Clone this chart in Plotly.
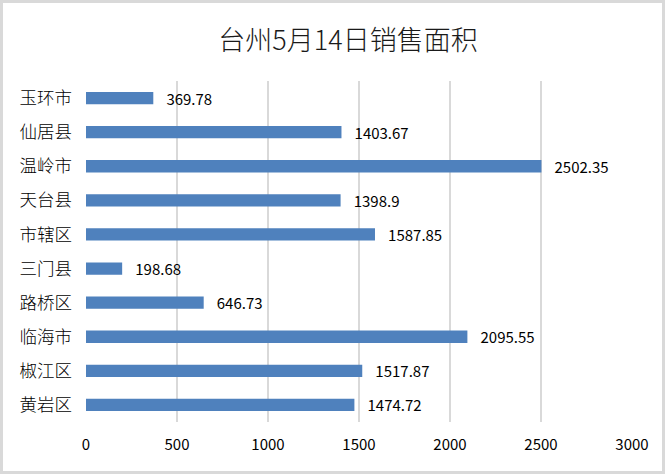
import plotly.graph_objects as go

categories = ["玉环市", "仙居县", "温岭市", "天台县", "市辖区", "三门县", "路桥区", "临海市", "椒江区", "黄岩区"]
values = [369.78, 1403.67, 2502.35, 1398.9, 1587.85, 198.68, 646.73, 2095.55, 1517.87, 1474.72]
value_labels = ["369.78", "1403.67", "2502.35", "1398.9", "1587.85", "198.68", "646.73", "2095.55", "1517.87", "1474.72"]
x_ticks = [0, 500, 1000, 1500, 2000, 2500, 3000]

W, H = 665, 474
ml, mr, mt, mb = 86, 33, 81, 52
pw, ph = W - ml - mr, H - mt - mb

font_family = "Noto Sans CJK SC, Noto Sans, sans-serif"

fig = go.Figure(go.Bar(
    y=categories,
    x=values,
    orientation="h",
    marker=dict(color="#4F81BD", line=dict(width=0)),
    text=["\u00a0\u00a0\u00a0" + t for t in value_labels],
    textposition="outside",
    constraintext="none",
    textfont=dict(size=15, color="#000000", family=font_family),
    cliponaxis=False,
))

fig.update_layout(
    width=W, height=H,
    margin=dict(l=ml, r=mr, t=mt, b=mb),
    paper_bgcolor="white",
    plot_bgcolor="white",
    bargap=0.64,
    showlegend=False,
    uniformtext=dict(mode=False),
    title=dict(text="台州5月14日销售面积", x=348 / W, xanchor="center", y=1 - 41 / H, yanchor="middle",
               font=dict(size=27, color="#1a1a1a", family=font_family, weight=300)),
    xaxis=dict(range=[0, 3000], tickvals=x_ticks, ticktext=[str(v) for v in x_ticks],
               showgrid=True, gridcolor="#d9d9d9", gridwidth=2, zeroline=False,
               showline=False, ticks="", ticklabelstandoff=12,
               tickfont=dict(size=15, color="#000000", family=font_family)),
    yaxis=dict(categoryorder="array", categoryarray=categories[::-1], autorange=True,
               showgrid=False, zeroline=False, showline=False, ticks="",
               ticklabelstandoff=13,
               tickfont=dict(size=17.5, color="#000000", family=font_family, weight=300)),
    shapes=[dict(type="rect", xref="paper", yref="paper",
                 x0=(1.5 - ml) / pw, x1=(W - 1.5 - ml) / pw,
                 y0=(1.5 - mb) / ph, y1=(H - 1.5 - mb) / ph,
                 line=dict(color="#d9d9d9", width=3), layer="below")],
)

fig.write_html("out.html")
